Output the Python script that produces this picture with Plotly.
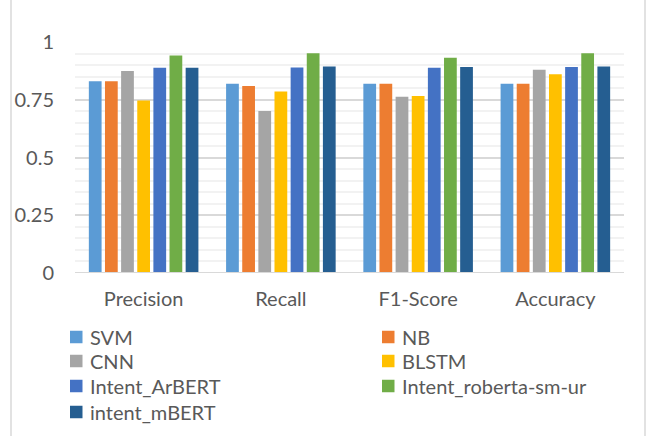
import plotly.graph_objects as go

# Evaluation metrics per model
metrics = ["Precision", "Recall", "F1-Score", "Accuracy"]
models = ["SVM", "NB", "CNN", "BLSTM", "Intent_ArBERT", "Intent_roberta-sm-ur", "intent_mBERT"]

svm = [0.830, 0.819, 0.819, 0.819]
nb = [0.830, 0.809, 0.819, 0.819]
cnn = [0.875, 0.701, 0.763, 0.880]
blstm = [0.747, 0.786, 0.766, 0.860]
intent_arbert = [0.888, 0.890, 0.888, 0.892]
intent_roberta = [0.942, 0.951, 0.932, 0.951]
intent_mbert = [0.889, 0.894, 0.892, 0.894]

y_ticks = [0, 0.25, 0.5, 0.75, 1]
y_tick_labels = ["0", "0.25", "0.5", "0.75", "1"]

series = [svm, nb, cnn, blstm, intent_arbert, intent_roberta, intent_mbert]
colors = ["#5B9BD5", "#ED7D31", "#A5A5A5", "#FFC000", "#4472C4", "#70AD47", "#255E91"]

FONT = "Lato"
TEXT = "#595959"

W, H = 647, 436
ML, MR, MT, MB = 75, 23, 42, 163
pw, ph = W - ML - MR, H - MT - MB


def px_x(px):
    return (px - ML) / pw


def px_y(py):
    return (MT + ph - py) / ph


fig = go.Figure()
for name, vals, col in zip(models, series, colors):
    fig.add_trace(go.Bar(x=metrics, y=vals, name=name, marker_color=col,
                         marker_line_width=0, showlegend=False))

shapes = []
annotations = []

# thin frame lines at the left and right of the chart area
for px in (11, 645):
    xp = px_x(px)
    shapes.append(dict(type="line", xref="paper", yref="paper",
                       x0=xp, x1=xp, y0=-MB / ph, y1=(ph + MT) / ph,
                       line=dict(color="#D9D9D9", width=1.5)))
# baseline
shapes.append(dict(type="line", xref="paper", yref="y", x0=0, x1=1, y0=0, y1=0,
                   line=dict(color="#D9D9D9", width=2), layer="above"))

# two-column key below the chart, filled row by row
key_left = [70, 382]             # swatch left edge, px
key_rows = [337, 361, 386, 412]  # row centre, px
SW = 12.5
for i, (name, col) in enumerate(zip(models, colors)):
    x0 = key_left[i % 2]
    yc = key_rows[i // 2]
    shapes.append(dict(type="rect", xref="paper", yref="paper",
                       x0=px_x(x0), x1=px_x(x0 + SW),
                       y0=px_y(yc + SW / 2), y1=px_y(yc - SW / 2),
                       fillcolor=col, line=dict(width=0)))
    annotations.append(dict(text=name, xref="paper", yref="paper",
                            x=px_x(x0 + SW + 5), y=px_y(yc),
                            xanchor="left", yanchor="middle", showarrow=False,
                            font=dict(family=FONT, size=20, color=TEXT)))

fig.update_layout(
    width=W, height=H, showlegend=False,
    margin=dict(l=ML, r=MR, t=MT, b=MB, pad=0),
    paper_bgcolor="white", plot_bgcolor="white",
    barmode="group", bargap=0.177, bargroupgap=0.21,
    font=dict(family=FONT, size=20, color=TEXT),
    xaxis=dict(showgrid=False, showline=False, ticks="", tickfont=dict(size=20, color=TEXT),
               ticklabelstandoff=12),
    yaxis=dict(range=[0, 1], tickvals=y_ticks, ticktext=y_tick_labels,
               showgrid=True, gridcolor="#D9D9D9", gridwidth=1.5,
               zeroline=False, showline=False, ticks="",
               tickfont=dict(size=20, color=TEXT), ticklabelstandoff=20,
               minor=dict(dtick=0.05, showgrid=True, gridcolor="#F2F2F2", gridwidth=1.5)),
    shapes=shapes,
    annotations=annotations,
)

fig.write_html("out.html")
